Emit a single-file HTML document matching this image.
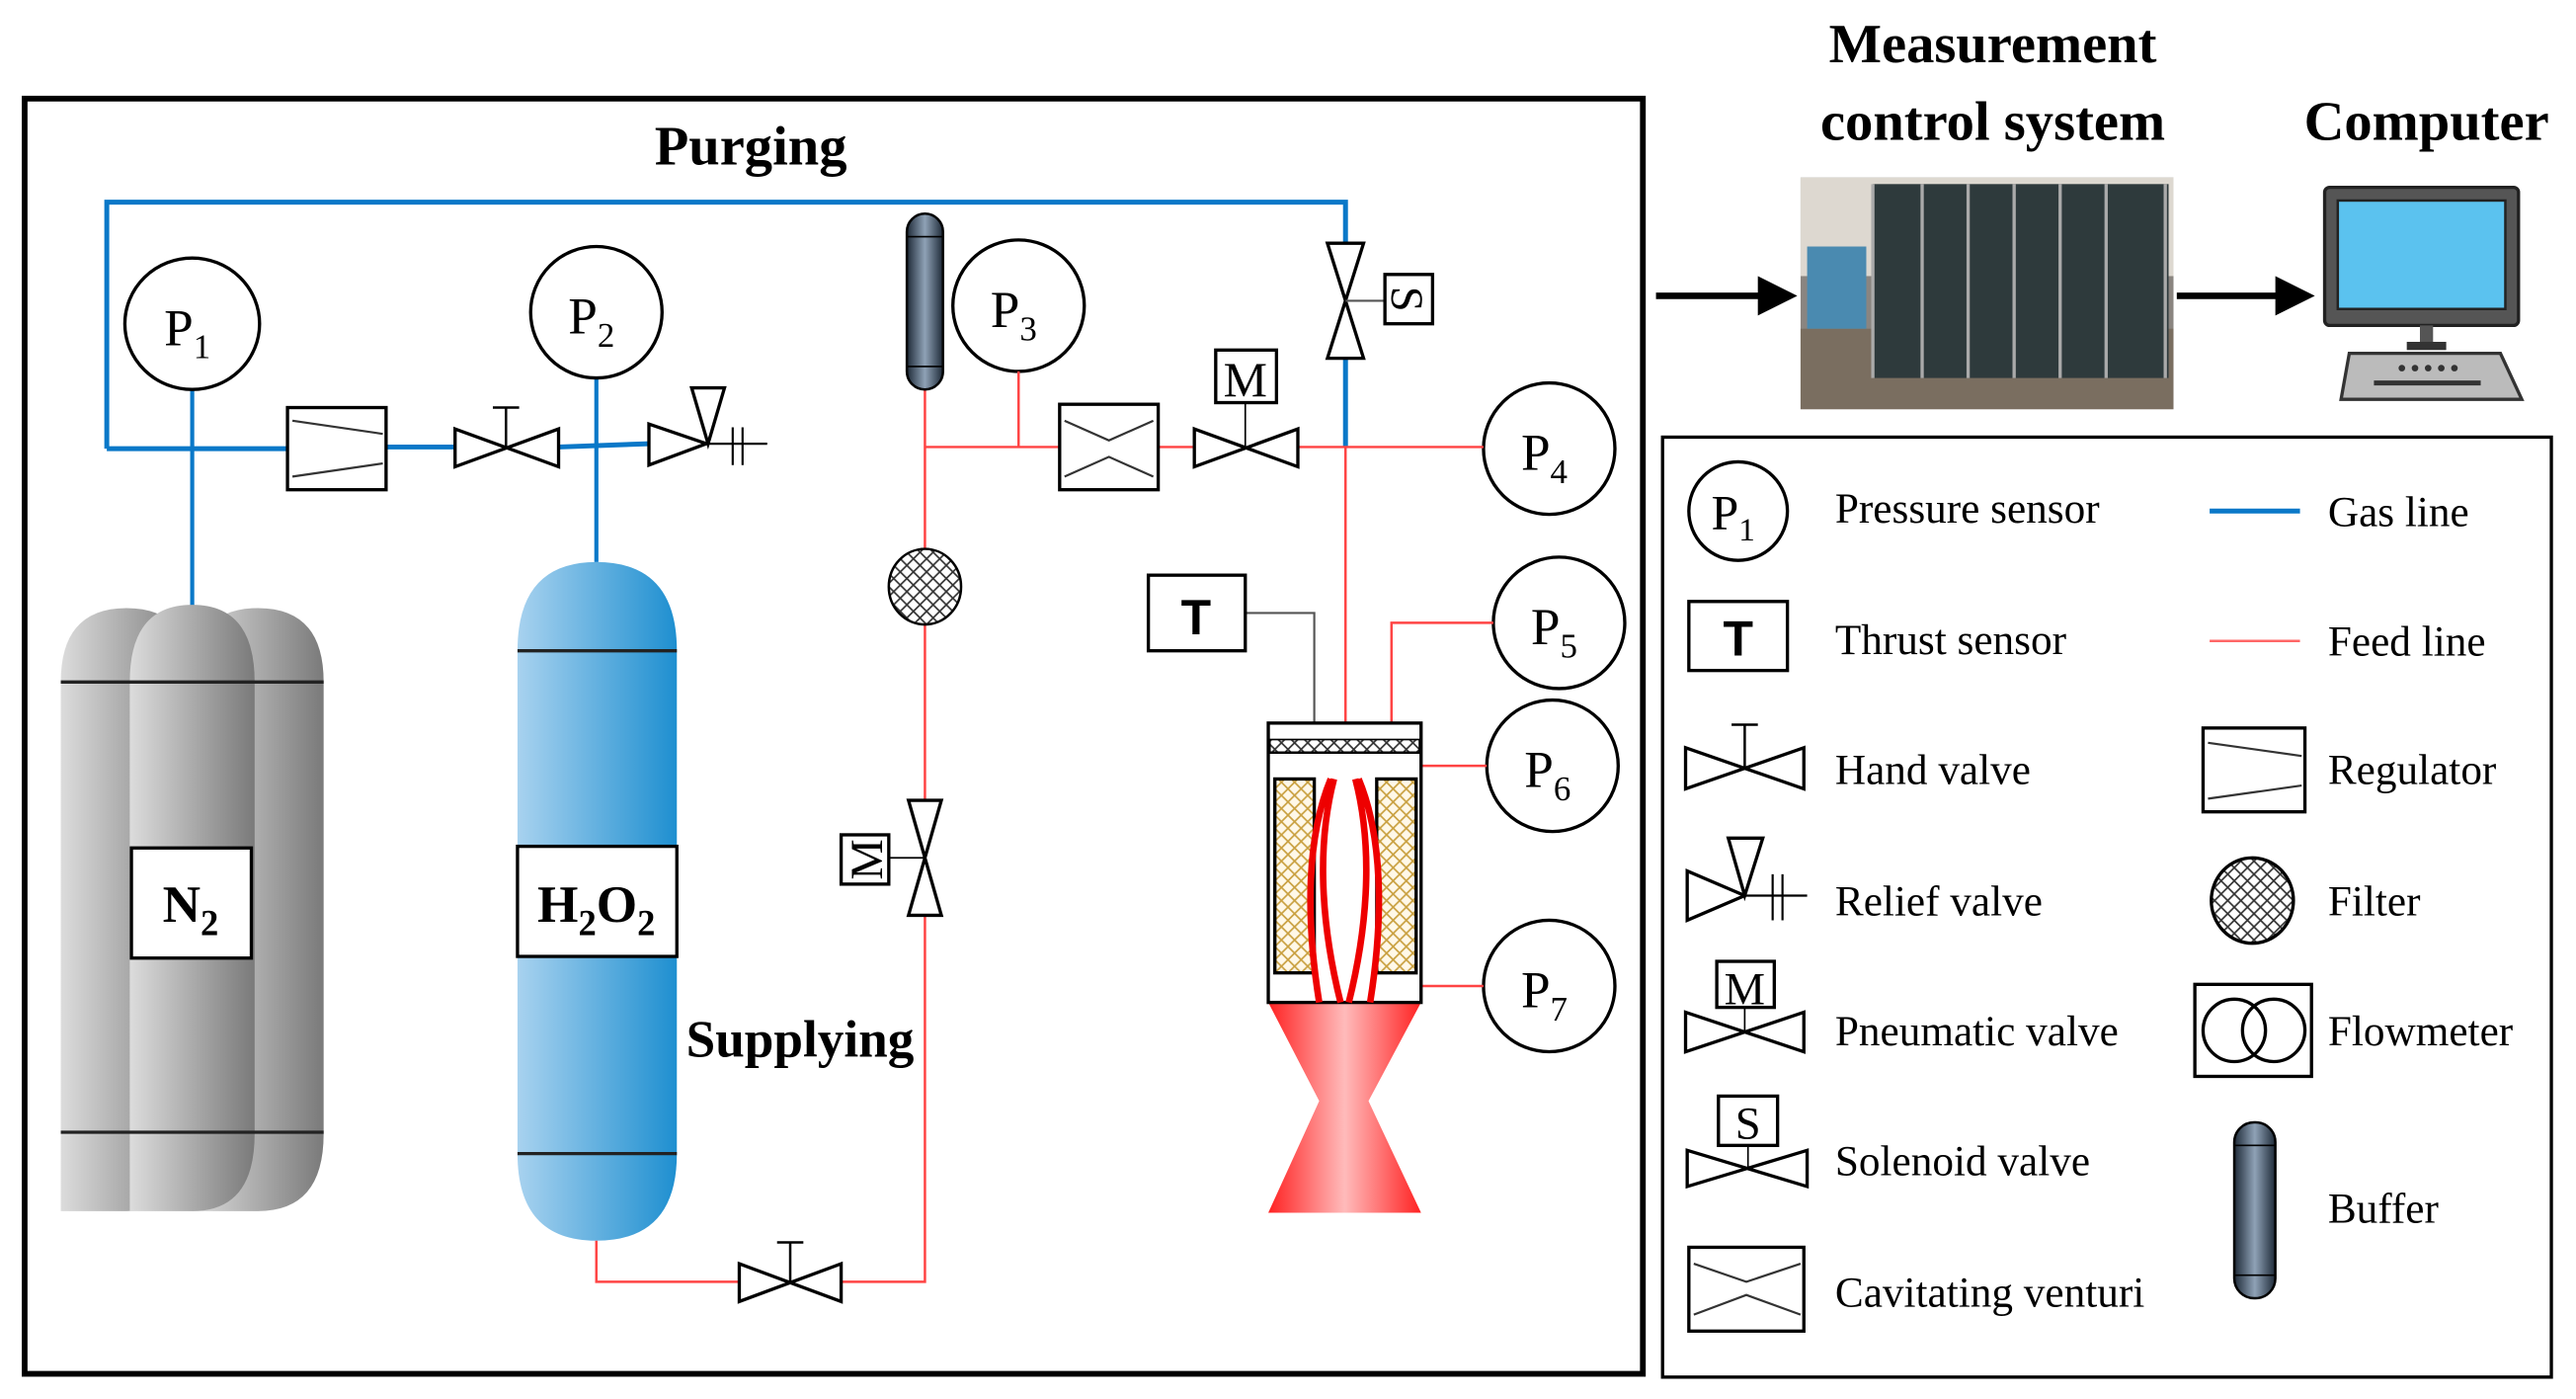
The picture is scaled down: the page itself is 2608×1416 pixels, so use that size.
<!DOCTYPE html>
<html><head><meta charset="utf-8"><style>
html,body{margin:0;padding:0;background:#fff;}
svg{display:block;}
text{font-family:"Liberation Serif",serif;}
</style></head><body>
<svg width="2608" height="1416" viewBox="0 0 1568 851.3" xmlns="http://www.w3.org/2000/svg">
<defs>
<linearGradient id="gr" x1="0" x2="1"><stop offset="0" stop-color="#dcdcdc"/><stop offset="1" stop-color="#7a7a7a"/></linearGradient>
<linearGradient id="bl" x1="0" x2="1"><stop offset="0" stop-color="#a8d2ef"/><stop offset="1" stop-color="#1e8fd0"/></linearGradient>
<linearGradient id="bf" x1="0" x2="1"><stop offset="0" stop-color="#1e2a38"/><stop offset="0.5" stop-color="#8fa2b6"/><stop offset="1" stop-color="#1e2a38"/></linearGradient>
<linearGradient id="rd" x1="0" x2="1"><stop offset="0" stop-color="#f22"/><stop offset="0.5" stop-color="#fbb"/><stop offset="1" stop-color="#f22"/></linearGradient>
<pattern id="hx" width="8" height="8" patternUnits="userSpaceOnUse"><path d="M0 0L8 8M8 0L0 8" stroke="#333" stroke-width="1"/></pattern>
<pattern id="yx" width="8" height="8" patternUnits="userSpaceOnUse"><rect width="8" height="8" fill="#fff8e8"/><path d="M0 0L8 8M8 0L0 8" stroke="#c9a040" stroke-width="1"/></pattern>
<marker id="ar" markerWidth="6" markerHeight="6" refX="5" refY="3" orient="auto" markerUnits="strokeWidth"><path d="M0 0L6 3L0 6z" fill="#000"/></marker>
</defs>

<!-- main frame -->
<rect x="15" y="60" width="985" height="776" fill="none" stroke="#000" stroke-width="3.5"/>
<text x="457" y="100" font-size="34" font-weight="bold" text-anchor="middle">Purging</text>

<!-- gas lines -->
<g stroke="#0a78c8" stroke-width="3" fill="none">
<path d="M65 273V123H819V150"/>
<path d="M819 216V272"/>
<path d="M65 273H175M235 272H277M340 272L395 270"/>
<path d="M117 237V370M363 230V342" stroke-width="2.5"/>
</g>

<!-- N2 tanks -->
<g stroke="none">
<path d="M117 737V415Q117 370 157 370Q197 370 197 415V690Q197 737 157 737Z" fill="url(#gr)"/>
<path d="M37 737V415Q37 370 77 370Q117 370 117 415V690Q117 737 77 737Z" fill="url(#gr)"/>
<path d="M79 737V415Q79 368 117 368Q155 368 155 415V690Q155 737 117 737Z" fill="url(#gr)"/>
</g>
<path d="M37 415H197M37 689H197" stroke="#222" stroke-width="2"/>
<rect x="80" y="516" width="73" height="67" fill="#fff" stroke="#000" stroke-width="2"/>
<text x="116" y="561" font-size="32" font-weight="bold" text-anchor="middle">N<tspan font-size="22" dy="8">2</tspan></text>

<!-- H2O2 tank -->
<path d="M315 702V396Q315 342 363 342Q412 342 412 396V702Q412 755 363 755Q315 755 315 702Z" fill="url(#bl)"/>
<path d="M315 396H412M315 702H412" stroke="#222" stroke-width="2"/>
<rect x="315" y="515" width="97" height="67" fill="#fff" stroke="#000" stroke-width="2"/>
<text x="363" y="561" font-size="32" font-weight="bold" text-anchor="middle">H<tspan font-size="22" dy="8">2</tspan><tspan dy="-8">O</tspan><tspan font-size="22" dy="8">2</tspan></text>
<text x="487" y="643" font-size="32" font-weight="bold" text-anchor="middle">Supplying</text>

<!-- regulator -->
<rect x="175" y="248" width="60" height="50" fill="#fff" stroke="#000" stroke-width="2"/>
<path d="M178 256L233 264M178 290L233 282" stroke="#333" stroke-width="1.3"/>
<!-- hand valve gas -->
<g fill="#fff" stroke="#000" stroke-width="2"><path d="M277 261L340 284V261L277 284Z"/></g>
<path d="M308 272V248M300 248H316" stroke="#000" stroke-width="1.5"/>
<!-- relief valve -->
<g fill="#fff" stroke="#000" stroke-width="2"><path d="M395 258L430 270L395 283Z"/><path d="M421 236H441L431 270Z"/></g>
<path d="M430 270H467M446 260V283M452 260V283" stroke="#000" stroke-width="1.3"/>

<!-- P sensors -->
<g fill="#fff" stroke="#000" stroke-width="2">
<ellipse cx="117" cy="197" rx="41" ry="40"/>
<ellipse cx="363" cy="190" rx="40" ry="40"/>
<ellipse cx="620" cy="186" rx="40" ry="40"/>
<ellipse cx="943" cy="273" rx="40" ry="40"/>
<ellipse cx="949" cy="379" rx="40" ry="40"/>
<ellipse cx="945" cy="466" rx="40" ry="40"/>
<ellipse cx="943" cy="600" rx="40" ry="40"/>
</g>
<g font-size="32" text-anchor="middle">
<text x="114" y="210">P<tspan font-size="21" dy="8">1</tspan></text>
<text x="360" y="203">P<tspan font-size="21" dy="8">2</tspan></text>
<text x="617" y="199">P<tspan font-size="21" dy="8">3</tspan></text>
<text x="940" y="286">P<tspan font-size="21" dy="8">4</tspan></text>
<text x="946" y="392">P<tspan font-size="21" dy="8">5</tspan></text>
<text x="942" y="479">P<tspan font-size="21" dy="8">6</tspan></text>
<text x="940" y="613">P<tspan font-size="21" dy="8">7</tspan></text>
</g>

<!-- feed lines -->
<g stroke="#f44" stroke-width="1.5" fill="none">
<path d="M363 755V780H450M512 780H563V557"/>
<path d="M563 487V380M563 334V237"/>
<path d="M563 272H645M705 272H727M790 272H903"/>
<path d="M620 226V272"/>
<path d="M819 272V440"/>
<path d="M909 379H847V440"/>
<path d="M905 466H865M903 600H865"/>
</g>
<path d="M758 373H800V440" stroke="#555" stroke-width="1.3" fill="none"/>

<!-- buffer -->
<rect x="552" y="130" width="22" height="107" rx="11" fill="url(#bf)" stroke="#000" stroke-width="1.5"/>
<path d="M552 144H574M552 223H574" stroke="#000" stroke-width="1"/>
<!-- filter -->
<ellipse cx="563" cy="357" rx="22" ry="23" fill="url(#hx)" stroke="#000" stroke-width="1.5"/>
<!-- pneumatic vertical valve -->
<path d="M553 487L573 557H553L573 487Z" fill="#fff" stroke="#000" stroke-width="2"/>
<path d="M541 522H563" stroke="#000" stroke-width="1"/>
<rect x="512" y="508" width="29" height="30" fill="#fff" stroke="#000" stroke-width="2"/>
<text x="527" y="533" font-size="28" text-anchor="middle" transform="rotate(-90 527 523)">M</text>
<!-- hand valve liquid -->
<path d="M450 769L512 792V769L450 792Z" fill="#fff" stroke="#000" stroke-width="2"/>
<path d="M481 780V756M473 756H489" stroke="#000" stroke-width="1.5"/>
<!-- venturi -->
<rect x="645" y="246" width="60" height="52" fill="#fff" stroke="#000" stroke-width="2"/>
<path d="M648 256L675 268L702 256M648 290L675 278L702 290" stroke="#333" stroke-width="1.3" fill="none"/>
<!-- pneumatic valve horizontal -->
<path d="M727 261L790 284V261L727 284Z" fill="#fff" stroke="#000" stroke-width="2"/>
<path d="M758 245V272" stroke="#000" stroke-width="1"/>
<rect x="740" y="213" width="37" height="32" fill="#fff" stroke="#000" stroke-width="2"/>
<text x="758" y="241" font-size="30" text-anchor="middle">M</text>
<!-- solenoid vertical -->
<path d="M808 148L830 218H808L830 148Z" fill="#fff" stroke="#000" stroke-width="2"/>
<path d="M819 183H843" stroke="#555" stroke-width="1.3"/>
<rect x="843" y="167" width="29" height="30" fill="#fff" stroke="#000" stroke-width="2"/>
<text x="857" y="192" font-size="28" text-anchor="middle" transform="rotate(90 857 182)">S</text>
<!-- thrust -->
<rect x="699" y="350" width="59" height="46" fill="#fff" stroke="#000" stroke-width="2"/>
<text x="728" y="386" font-size="30" font-weight="bold" font-family="Liberation Sans" text-anchor="middle" style="font-family:'Liberation Sans',sans-serif">T</text>

<!-- engine -->
<path d="M772 610L803 670L772 738H865L833 670L865 610Z" fill="url(#rd)"/>
<rect x="772" y="440" width="93" height="170" fill="#fff" stroke="#000" stroke-width="2"/>
<rect x="773" y="450" width="91" height="8" fill="url(#hx)" stroke="#000" stroke-width="1"/>
<path d="M772 458H865" stroke="#000" stroke-width="1.5"/>
<rect x="776" y="474" width="24" height="118" fill="url(#yx)" stroke="#000" stroke-width="2"/>
<rect x="838" y="474" width="24" height="118" fill="url(#yx)" stroke="#000" stroke-width="2"/>
<path d="M810 474C795 510 795 560 803 610M827 474C842 510 842 560 834 610M812 474C800 520 806 570 816 610M825 474C837 520 831 570 821 610" stroke="#e00" stroke-width="4" fill="none"/>

<!-- top right -->
<text x="1213" y="38" font-size="34" font-weight="bold" text-anchor="middle">Measurement</text>
<text x="1213" y="85" font-size="34" font-weight="bold" text-anchor="middle">control system</text>
<text x="1477" y="85" font-size="34" font-weight="bold" text-anchor="middle">Computer</text>
<path d="M1008 180H1090" stroke="#000" stroke-width="4" marker-end="url(#ar)"/>
<path d="M1325 180H1405" stroke="#000" stroke-width="4" marker-end="url(#ar)"/>
<!-- photo -->
<rect x="1096" y="108" width="227" height="141" fill="#8a8580"/>
<rect x="1096" y="108" width="227" height="60" fill="#ddd8d0"/>
<rect x="1096" y="200" width="227" height="49" fill="#7a6e60"/>
<rect x="1140" y="112" width="180" height="118" fill="#2e3a3c"/>
<g stroke="#aaa" stroke-width="2"><path d="M1140 112V230M1170 112V230M1198 112V230M1226 112V230M1254 112V230M1282 112V230M1318 112V230"/></g>
<rect x="1100" y="150" width="36" height="50" fill="#4a8ab0"/>
<!-- computer -->
<rect x="1415" y="114" width="118" height="84" rx="3" fill="#555" stroke="#222" stroke-width="2"/>
<rect x="1423" y="122" width="102" height="66" fill="#5bc2ef" stroke="#222" stroke-width="1.5"/>
<rect x="1473" y="198" width="8" height="12" fill="#555"/>
<rect x="1465" y="208" width="24" height="5" fill="#333"/>
<path d="M1430 215H1522L1535 243H1425Z" fill="#bbb" stroke="#333" stroke-width="2"/>
<path d="M1445 233H1510" stroke="#333" stroke-width="3"/>
<g fill="#333"><circle cx="1462" cy="224" r="2"/><circle cx="1470" cy="224" r="2"/><circle cx="1478" cy="224" r="2"/><circle cx="1486" cy="224" r="2"/><circle cx="1494" cy="224" r="2"/></g>

<!-- legend -->
<rect x="1012" y="266" width="541" height="572" fill="none" stroke="#000" stroke-width="2"/>
<ellipse cx="1058" cy="311" rx="30" ry="30" fill="#fff" stroke="#000" stroke-width="2"/>
<text x="1055" y="322" font-size="30" text-anchor="middle">P<tspan font-size="20" dy="7">1</tspan></text>
<rect x="1028" y="366" width="60" height="42" fill="#fff" stroke="#000" stroke-width="2"/>
<text x="1058" y="399" font-size="30" font-weight="bold" text-anchor="middle" style="font-family:'Liberation Sans',sans-serif">T</text>
<path d="M1026 455L1098 480V455L1026 480Z" fill="#fff" stroke="#000" stroke-width="2"/>
<path d="M1062 467V441M1054 441H1070" stroke="#000" stroke-width="1.5"/>
<path d="M1027 530L1062 545L1027 560Z" fill="#fff" stroke="#000" stroke-width="2"/>
<path d="M1052 510H1073L1062 545Z" fill="#fff" stroke="#000" stroke-width="2"/>
<path d="M1062 545H1100M1079 532V560M1085 532V560" stroke="#000" stroke-width="1.3"/>
<rect x="1045" y="585" width="35" height="28" fill="#fff" stroke="#000" stroke-width="2"/>
<text x="1062" y="611" font-size="28" text-anchor="middle">M</text>
<path d="M1062 613V628" stroke="#000" stroke-width="1"/>
<path d="M1026 616L1098 640V616L1026 640Z" fill="#fff" stroke="#000" stroke-width="2"/>
<rect x="1046" y="667" width="36" height="30" fill="#fff" stroke="#000" stroke-width="2"/>
<text x="1064" y="693" font-size="28" text-anchor="middle">S</text>
<path d="M1064 697V711" stroke="#000" stroke-width="1"/>
<path d="M1027 700L1100 722V700L1027 722Z" fill="#fff" stroke="#000" stroke-width="2"/>
<rect x="1028" y="759" width="70" height="51" fill="#fff" stroke="#000" stroke-width="2"/>
<path d="M1031 769L1063 780L1096 769M1031 800L1063 788L1096 800" stroke="#333" stroke-width="1.3" fill="none"/>
<g font-size="26">
<text x="1117" y="318">Pressure sensor</text>
<text x="1117" y="398">Thrust sensor</text>
<text x="1117" y="477">Hand valve</text>
<text x="1117" y="557">Relief valve</text>
<text x="1117" y="636">Pneumatic valve</text>
<text x="1117" y="715">Solenoid valve</text>
<text x="1117" y="795">Cavitating venturi</text>
<text x="1417" y="320">Gas line</text>
<text x="1417" y="399">Feed line</text>
<text x="1417" y="477">Regulator</text>
<text x="1417" y="557">Filter</text>
<text x="1417" y="636">Flowmeter</text>
<text x="1417" y="744">Buffer</text>
</g>
<path d="M1345 311H1400" stroke="#0a78c8" stroke-width="3"/>
<path d="M1345 390H1400" stroke="#f66" stroke-width="1.5"/>
<rect x="1341" y="443" width="62" height="51" fill="#fff" stroke="#000" stroke-width="2"/>
<path d="M1344 452L1401 460M1344 486L1401 478" stroke="#333" stroke-width="1.3"/>
<ellipse cx="1371" cy="548" rx="25" ry="26" fill="url(#hx)" stroke="#000" stroke-width="2"/>
<rect x="1336" y="599" width="71" height="56" fill="#fff" stroke="#000" stroke-width="2"/>
<circle cx="1360" cy="627" r="19" fill="none" stroke="#000" stroke-width="2"/>
<circle cx="1384" cy="627" r="19" fill="none" stroke="#000" stroke-width="2"/>
<rect x="1360" y="683" width="25" height="107" rx="12" fill="url(#bf)" stroke="#000" stroke-width="1.5"/>
<path d="M1360 697H1385M1360 776H1385" stroke="#000" stroke-width="1"/>
</svg>
</body></html>
